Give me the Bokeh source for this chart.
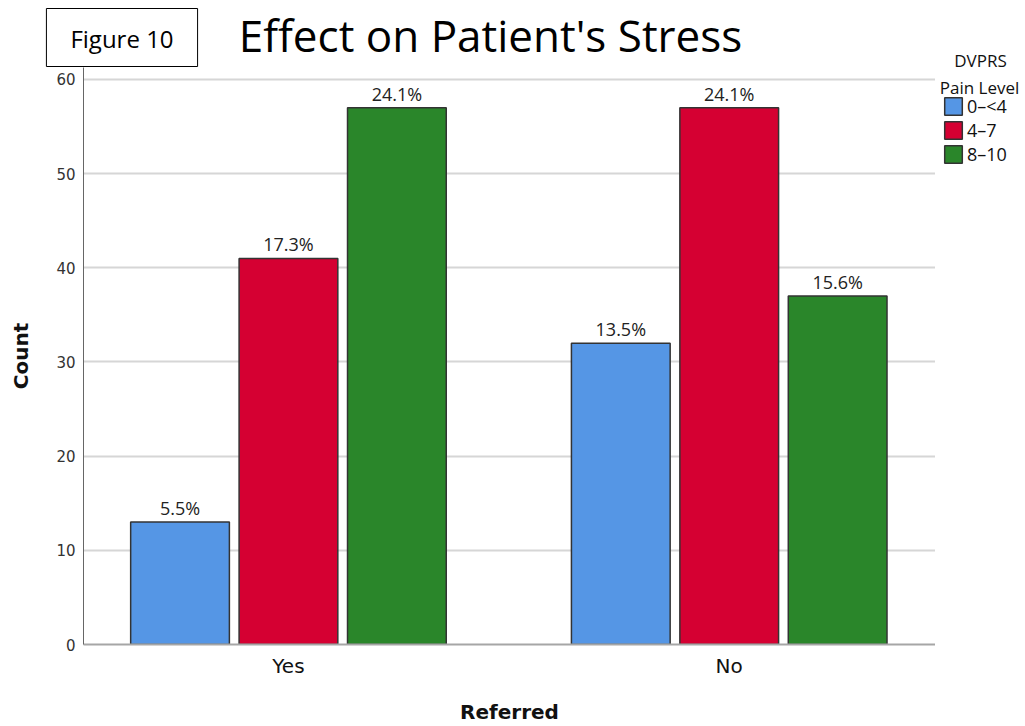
from bokeh.plotting import figure
from bokeh.models import (Range1d, FixedTicker, ColumnDataSource, LabelSet, Label,
                          Legend, LegendItem)
from bokeh.layouts import column, row
from bokeh.transform import dodge
from bokeh.core.properties import value
from bokeh.embed import file_html
from bokeh.resources import INLINE

# ---------------- data ----------------
referred = ["Yes", "No"]
levels = ["0–<4", "4–7", "8–10"]
count_0_4 = [13, 32]
count_4_7 = [41, 57]
count_8_10 = [57, 37]
pct_0_4 = ["5.5%", "13.5%"]
pct_4_7 = ["17.3%", "24.1%"]
pct_8_10 = ["24.1%", "15.6%"]
y_ticks = [0, 10, 20, 30, 40, 50, 60]

title_text = "Effect on Patient's Stress"
figure_tag = "Figure 10"
legend_title = ["DVPRS", "Pain Level"]

colors = ["#5596e5", "#d50032", "#2a862a"]
series = [count_0_4, count_4_7, count_8_10]
pcts = [pct_0_4, pct_4_7, pct_8_10]
offsets = [-0.246, 0.0, 0.246]

MAIN_W = 935
HEAD_H = 67
MAIN_H = 659
SIDE_W = 90
SIDE_H = HEAD_H + MAIN_H


def blank(w, h):
    f = figure(width=w, height=h, output_backend="svg", toolbar_location=None,
               x_axis_location=None, y_axis_location=None, title=None,
               x_range=Range1d(0, w), y_range=Range1d(0, h),
               min_border_left=0, min_border_right=0, min_border_top=0,
               min_border_bottom=0)
    f.outline_line_color = None
    f.grid.grid_line_color = None
    f.background_fill_color = "white"
    f.border_fill_color = "white"
    f.frame_align = False
    return f


# ---------------- header (title, figure tag) ----------------
head = blank(MAIN_W, HEAD_H)
head.add_layout(Label(x=490, y=3, x_units="screen", y_units="screen", text=title_text,
                      text_align="center", text_baseline="bottom",
                      text_font="Open Sans", text_font_size="44px", text_color="#000000"))
head.add_layout(Label(x=121.5, y=1, x_units="screen", y_units="screen", text=figure_tag,
                      text_align="center", text_baseline="bottom",
                      text_font="Open Sans", text_font_size="24px", text_color="#000000",
                      border_line_color="#000000", border_line_width=1,
                      background_fill_color="white", padding=(24, 24, 13, 12)))

# ---------------- main chart ----------------
p = figure(width=MAIN_W, height=MAIN_H, output_backend="svg", toolbar_location=None,
           x_range=Range1d(-0.465, 1.468), y_range=Range1d(0, 61.27),
           min_border_left=83, min_border_right=0, min_border_top=0,
           min_border_bottom=81, title=None)
p.frame_align = False
p.outline_line_color = None
p.background_fill_color = "white"
p.border_fill_color = "white"

xs = list(range(len(referred)))
for vals, pc, col, off in zip(series, pcts, colors, offsets):
    src = ColumnDataSource(dict(x=xs, y=vals, t=pc))
    p.vbar(x=dodge("x", off, range=p.x_range), top="y", width=0.224, source=src,
           fill_color=col, line_color="#333333", line_width=1.5)
    p.add_layout(LabelSet(x=dodge("x", off, range=p.x_range), y="y", text="t", source=src,
                          text_align="center", text_baseline="alphabetic", y_offset=7,
                          text_font=value("Open Sans"), text_font_size="18px",
                          text_color="#222222"))

p.xaxis.ticker = FixedTicker(ticks=xs)
p.xaxis.major_label_overrides = {i: lab for i, lab in zip(xs, referred)}
p.xaxis.major_tick_line_color = None
p.xaxis.major_tick_out = 0
p.xaxis.major_tick_in = 0
p.xaxis.minor_tick_line_color = None
p.xaxis.axis_line_color = "#a6a6a6"
p.xaxis.axis_line_width = 2
p.xaxis.major_label_text_font = "DejaVu Sans"
p.xaxis.major_label_text_font_size = "20px"
p.xaxis.major_label_text_color = "#111111"
p.xaxis.major_label_standoff = 9
p.xaxis.axis_label = "Referred"
p.xaxis.axis_label_text_font = "DejaVu Sans"
p.xaxis.axis_label_text_font_style = "bold"
p.xaxis.axis_label_text_font_size = "20px"
p.xaxis.axis_label_text_color = "#111111"
p.xaxis.axis_label_standoff = 19

p.yaxis.ticker = FixedTicker(ticks=y_ticks)
p.yaxis.major_tick_line_color = None
p.yaxis.major_tick_out = 0
p.yaxis.major_tick_in = 0
p.yaxis.minor_tick_line_color = None
p.yaxis.axis_line_color = "#666666"
p.yaxis.axis_line_width = 1
p.yaxis.major_label_text_font = "DejaVu Sans"
p.yaxis.major_label_text_font_size = "15px"
p.yaxis.major_label_text_color = "#333333"
p.yaxis.major_label_standoff = 8
p.yaxis.axis_label = "Count"
p.yaxis.axis_label_text_font = "DejaVu Sans"
p.yaxis.axis_label_text_font_style = "bold"
p.yaxis.axis_label_text_font_size = "20px"
p.yaxis.axis_label_text_color = "#111111"
p.yaxis.axis_label_standoff = 20

p.xgrid.grid_line_color = None
p.ygrid.grid_line_color = "#d6d6d6"
p.ygrid.grid_line_width = 2

# ---------------- legend panel ----------------
side = blank(SIDE_W, SIDE_H)
side.add_layout(Label(x=45, y=655, x_units="screen", y_units="screen", text=legend_title[0],
                      text_align="center", text_baseline="bottom",
                      text_font="Open Sans", text_font_size="17px", text_color="#111111"))
side.add_layout(Label(x=44, y=628, x_units="screen", y_units="screen", text=legend_title[1],
                      text_align="center", text_baseline="bottom",
                      text_font="Open Sans", text_font_size="17px", text_color="#111111"))
swatches = []
for col in colors:
    swatches.append(side.vbar(x=[0], top=[0], width=0, fill_color=col,
                              line_color="#333333", line_width=1.5))
legend = Legend(items=[LegendItem(label=lab, renderers=[r]) for lab, r in zip(levels, swatches)],
                location=(7, 560), orientation="vertical",
                glyph_width=22, glyph_height=22, label_height=18, label_width=40,
                label_standoff=3, spacing=0, padding=0, margin=0,
                border_line_color=None, background_fill_alpha=0,
                label_text_font="Open Sans", label_text_font_size="18px",
                label_text_color="#111111", label_text_baseline="middle")
side.add_layout(legend)

layout = row(column(head, p), side)
open("out.html", "w").write(file_html(layout, INLINE))
